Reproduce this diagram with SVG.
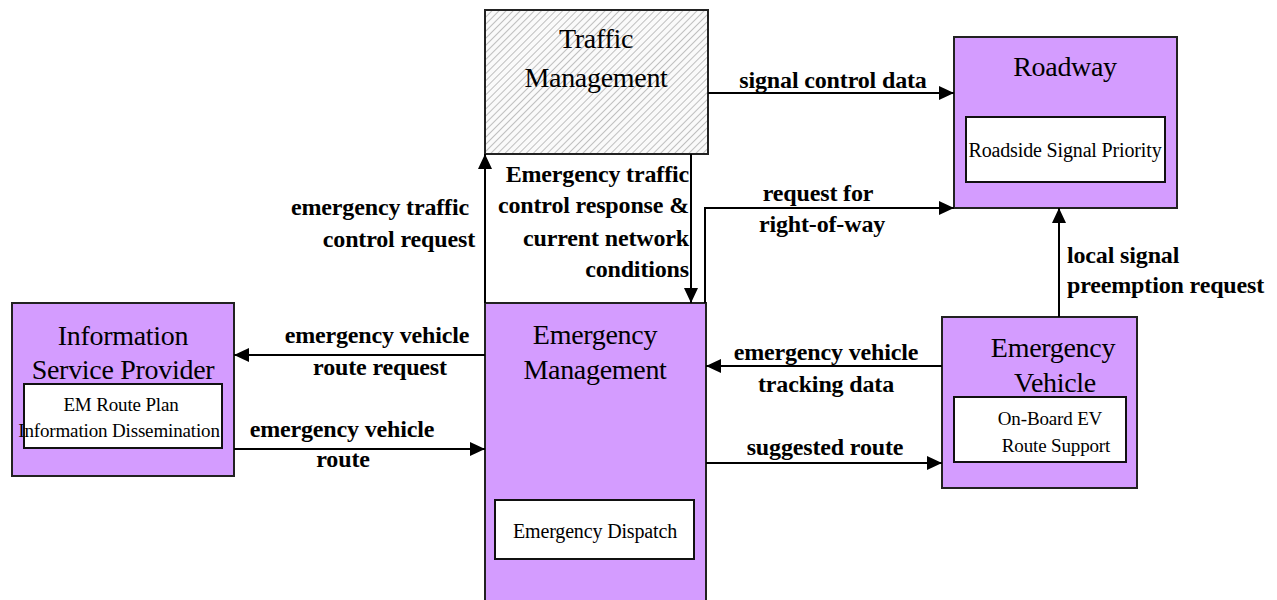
<svg xmlns="http://www.w3.org/2000/svg" width="1277" height="600" viewBox="0 0 1277 600">
<style>
.box{fill:#d49cff;stroke:#222;stroke-width:2}
.inner{fill:#fff;stroke:#111;stroke-width:2}
.title{font-family:"Liberation Serif","Times New Roman",serif;font-size:28px;fill:#000;text-anchor:middle;letter-spacing:-0.3px}
.sub{font-family:"Liberation Serif","Times New Roman",serif;font-size:20px;fill:#000;text-anchor:middle;letter-spacing:-0.15px}
.sm{font-size:19px}
.lbl{font-family:"Liberation Serif","Times New Roman",serif;font-size:24px;font-weight:bold;fill:#000;letter-spacing:-0.15px}
.c{text-anchor:middle}
.e{text-anchor:end}
.s{text-anchor:start}
.conn{fill:none;stroke:#000;stroke-width:2}
</style>
<defs>
<pattern id="hatch" width="5" height="5" patternUnits="userSpaceOnUse" patternTransform="rotate(45)">
<rect width="5" height="5" fill="#fafafa"/>
<line x1="0" y1="0" x2="0" y2="5" stroke="#b0b0b0" stroke-width="1.6"/>
</pattern>
<marker id="arr" markerUnits="userSpaceOnUse" markerWidth="16" markerHeight="14" refX="15" refY="7" orient="auto">
<path d="M0,0 L15,7 L0,14 Z" fill="#000"/>
</marker>
</defs>

<g id="traffic-management">
<rect x="485" y="10" width="223" height="144" fill="url(#hatch)" stroke="#222" stroke-width="2"/>
<text class="title" x="596" y="48">Traffic</text>
<text class="title" x="596" y="87">Management</text>
</g>

<g id="roadway">
<rect class="box" x="954" y="37" width="223" height="171"/>
<text class="title" x="1065" y="76">Roadway</text>
<rect class="inner" x="966" y="117" width="199" height="65"/>
<text class="sub" x="1065" y="157">Roadside Signal Priority</text>
</g>

<g id="information-service-provider">
<rect class="box" x="12" y="303" width="222" height="173"/>
<text class="title" x="123" y="345">Information</text>
<text class="title" x="123" y="379">Service Provider</text>
<rect class="inner" x="24" y="384" width="198" height="64"/>
<text class="sub sm" x="121" y="411">EM Route Plan</text>
<text class="sub sm" x="119" y="437">Information Dissemination</text>
</g>

<g id="emergency-management">
<rect class="box" x="485" y="303" width="221" height="310"/>
<text class="title" x="595" y="344">Emergency</text>
<text class="title" x="595" y="379">Management</text>
<rect class="inner" x="495" y="500" width="199" height="59"/>
<text class="sub" x="595" y="538">Emergency Dispatch</text>
</g>

<g id="emergency-vehicle">
<rect class="box" x="942" y="317" width="195" height="171"/>
<text class="title" x="1053" y="357">Emergency</text>
<text class="title" x="1055" y="392">Vehicle</text>
<rect class="inner" x="954" y="397" width="172" height="65"/>
<text class="sub sm" x="1050" y="425">On-Board EV</text>
<text class="sub sm" x="1056" y="452">Route Support</text>
</g>

<g id="connectors">
<path class="conn" d="M708,93 L954,93" marker-end="url(#arr)"/>
<path class="conn" d="M705,303 L705,208 L954,208" marker-end="url(#arr)"/>
<path class="conn" d="M691,154 L691,303" marker-end="url(#arr)"/>
<path class="conn" d="M485,303 L485,154" marker-end="url(#arr)"/>
<path class="conn" d="M485,355 L234,355" marker-end="url(#arr)"/>
<path class="conn" d="M234,449 L485,449" marker-end="url(#arr)"/>
<path class="conn" d="M942,366 L706,366" marker-end="url(#arr)"/>
<path class="conn" d="M706,463 L942,463" marker-end="url(#arr)"/>
<path class="conn" d="M1059,317 L1059,208" marker-end="url(#arr)"/>

<text class="lbl c" x="833" y="88">signal control data</text>
<text class="lbl c" x="818" y="201">request for</text>
<text class="lbl c" x="822" y="232">right-of-way</text>
<text class="lbl e" x="689" y="182">Emergency traffic</text>
<text class="lbl e" x="689" y="213">control response &amp;</text>
<text class="lbl e" x="689" y="246">current network</text>
<text class="lbl e" x="689" y="277">conditions</text>
<text class="lbl e" x="469" y="215">emergency traffic</text>
<text class="lbl e" x="475" y="247">control request</text>
<text class="lbl c" x="377" y="343">emergency vehicle</text>
<text class="lbl c" x="380" y="375">route request</text>
<text class="lbl c" x="342" y="437">emergency vehicle</text>
<text class="lbl c" x="343" y="467">route</text>
<text class="lbl c" x="826" y="360">emergency vehicle</text>
<text class="lbl c" x="826" y="392">tracking data</text>
<text class="lbl c" x="825" y="455">suggested route</text>
<text class="lbl s" x="1067" y="263">local signal</text>
<text class="lbl s" x="1067" y="293">preemption request</text>
</g>
</svg>
